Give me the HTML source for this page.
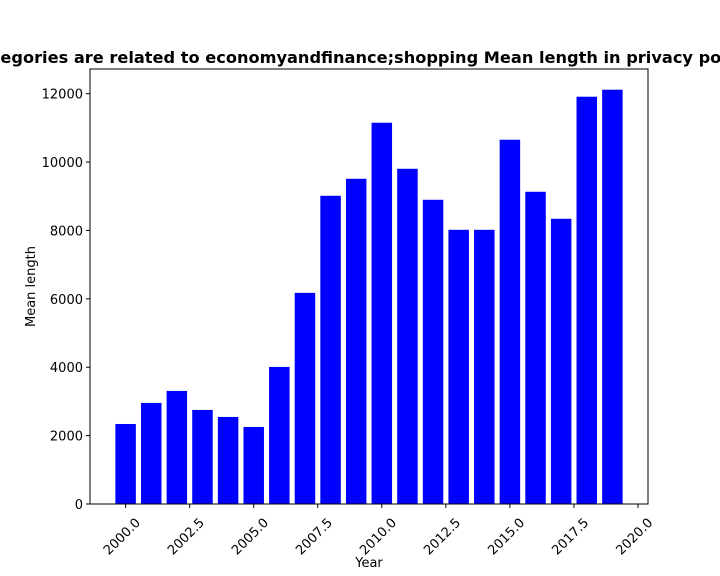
<!DOCTYPE html>
<html><head><meta charset="utf-8"><style>
body{margin:0;background:#fff;font-family:"DejaVu Sans","Liberation Sans",sans-serif;}
svg{display:block}
</style></head><body>
<svg id="chart" width="720" height="576" xmlns="http://www.w3.org/2000/svg" font-family="DejaVu Sans, Liberation Sans, sans-serif"></svg>
<script>
const years=[2000,2001,2002,2003,2004,2005,2006,2007,2008,2009,2010,2011,2012,2013,2014,2015,2016,2017,2018,2019];
const meanLengths=[2340,2956,3307,2751,2546,2253,4009,6175,9014,9511,11150,9804,8897,8019,8019,10653,9131,8341,11911,12116];
const xTicks=[2000,2002.5,2005,2007.5,2010,2012.5,2015,2017.5,2020];
const xTickLabels=["2000.0","2002.5","2005.0","2007.5","2010.0","2012.5","2015.0","2017.5","2020.0"];
const yTicks=[0,2000,4000,6000,8000,10000,12000];

const NS="http://www.w3.org/2000/svg";
const svg=document.getElementById('chart');
const L=90,R=648,T=69,B=504;
const xmin=years[0]-0.4-0.05*(years[years.length-1]-years[0]+0.8);
const xmax=years[years.length-1]+0.4+0.05*(years[years.length-1]-years[0]+0.8);
const ymax=Math.max(...meanLengths)*1.05;
const xs=v=>L+(v-xmin)/(xmax-xmin)*(R-L);
const ys=v=>B-v/ymax*(B-T);
function el(tag,attrs,txt){const e=document.createElementNS(NS,tag);for(const k in attrs)e.setAttribute(k,attrs[k]);if(txt!==undefined)e.textContent=txt;svg.appendChild(e);return e;}

years.forEach((y,i)=>{
  const x0=xs(y-0.4),x1=xs(y+0.4);
  const r=el('rect',{x:x0,y:ys(meanLengths[i]),width:x1-x0,height:B-ys(meanLengths[i]),fill:'#0000ff'});
  
  
});
const frame=el('rect',{x:L,y:T,width:R-L,height:B-T,fill:'none',stroke:'#000','stroke-width':1});



xTicks.forEach((v,i)=>{
  const x=xs(v);
  el('line',{x1:x,x2:x,y1:B,y2:B+4,stroke:'#000'});
  const t=el('text',{x:x+9,y:B+13,'font-size':13,'text-anchor':'end',transform:`rotate(-45 ${x+9} ${B+13})`,dy:9},xTickLabels[i]);
  
  
});
yTicks.forEach(v=>{
  const y=ys(v);
  el('line',{x1:L-4,x2:L,y1:y,y2:y,stroke:'#000'});
  const t=el('text',{x:L-7,y:y+5,'font-size':13,'text-anchor':'end'},String(v));
  
  
});
const xt=el('text',{x:(L+R)/2,y:567,'font-size':13,'text-anchor':'middle'},'Year');


const yt=el('text',{x:35,y:(T+B)/2,'font-size':13,'text-anchor':'middle',transform:`rotate(-90 35 ${(T+B)/2})`},'Mean length');


const title=el('text',{x:(L+R)/2,y:63,'font-size':16.2,'font-weight':'bold','text-anchor':'middle'},'Categories are related to economyandfinance;shopping Mean length in privacy policies');


</script>
</body></html>
